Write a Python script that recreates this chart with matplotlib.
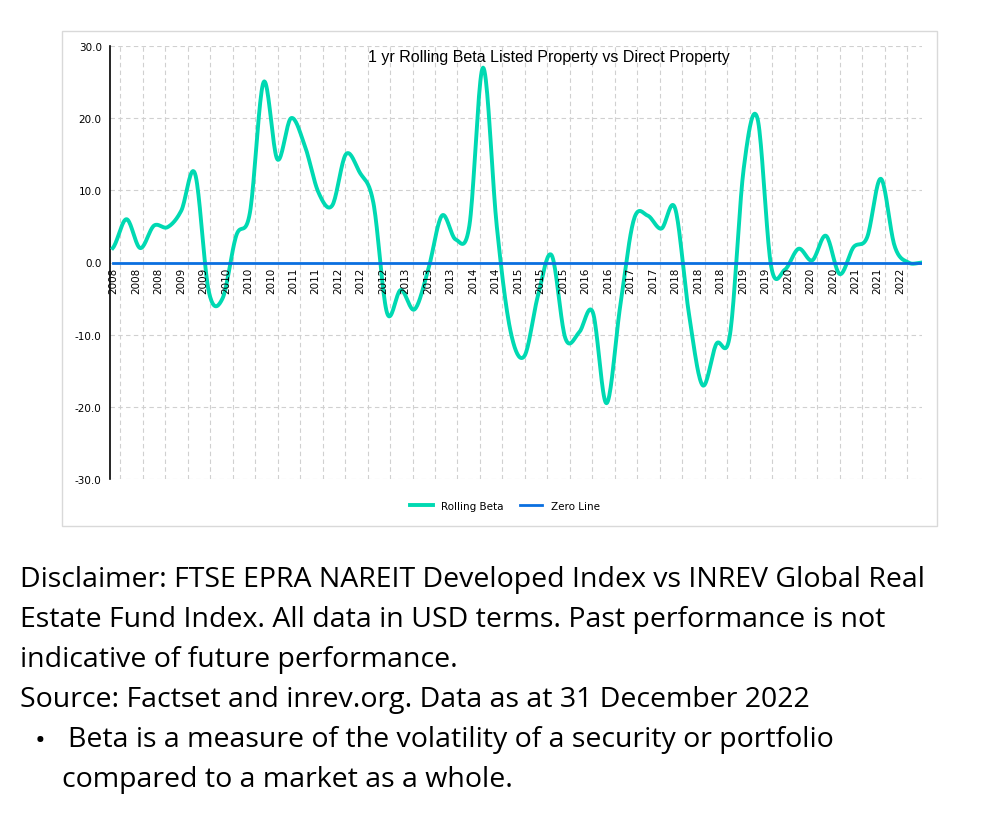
import numpy as np
import matplotlib.pyplot as plt
from matplotlib.patches import Rectangle

#------------------- DATA -------------------#
# quarterly rolling beta values, 2008 Q1 .. 2022 Q4
beta = [2.0, 6.0, 2.0, 5.1, 4.9, 7.2, 12.3, -4.0, -5.0, 3.7,
        6.9, 25.0, 14.3, 20.0, 16.2, 9.7, 7.9, 15.0, 12.5, 8.3,
        -7.0, -3.8, -6.5, -1.0, 6.5, 3.2, 5.1, 27.0, 5.0, -9.5,
        -13.0, -4.6, 1.0, -10.5, -9.7, -6.9, -19.5, -6.0, 6.0, 6.5,
        4.7, 7.5, -7.0, -17.0, -11.3, -10.0, 13.0, 20.0, -0.5, -1.0,
        1.9, 0.3, 3.7, -1.6, 2.1, 3.5, 11.6, 2.3, 0.0, 0.0]
tickLabels = ['2008', '2008', '2008', '2009', '2009', '2010', '2010', '2010', '2011', '2011',
              '2012', '2012', '2012', '2013', '2013', '2013', '2014', '2014', '2015', '2015',
              '2015', '2016', '2016', '2017', '2017', '2018', '2018', '2018', '2019', '2019',
              '2020', '2020', '2020', '2021', '2021', '2022']
title = '1 yr Rolling Beta Listed Property vs Direct Property'
notes = ['Disclaimer: FTSE EPRA NAREIT Developed Index vs INREV Global Real',
         'Estate Fund Index. All data in USD terms. Past performance is not',
         'indicative of future performance.',
         'Source: Factset and inrev.org. Data as at 31 December 2022']
bullet = ['Beta is a measure of the volatility of a security or portfolio',
          'compared to a market as a whole.']

TEAL = '#00d9b2'
BLUE = '#0a6fe0'

# catmull-rom smoothing, like excel's smoothed line
def smooth(y, n=20):
    y = np.asarray(y, float)
    p = np.concatenate([[y[0]], y, [y[-1]]])
    xs, ys = [], []
    for i in range(len(y) - 1):
        p0, p1, p2, p3 = p[i], p[i+1], p[i+2], p[i+3]
        t = np.linspace(0, 1, n, endpoint=False)
        ys.append(0.5*((2*p1) + (-p0+p2)*t + (2*p0-5*p1+4*p2-p3)*t**2 + (-p0+3*p1-3*p2+p3)*t**3))
        xs.append(i + t)
    xs.append([len(y)-1]); ys.append([y[-1]])
    return np.concatenate(xs), np.concatenate(ys)

fig = plt.figure(figsize=(10, 8.2), dpi=100)
fig.patches.append(Rectangle((62/1000, 1-527/820), 875/1000, 495/820, transform=fig.transFigure,
                             fill=False, edgecolor='#d9d9d9', linewidth=1))

ax = fig.add_axes([110/1000, 1-480/820, 812/1000, 433/820])
n = len(beta)
sx, sy = smooth(beta)
ax.plot(sx, sy, color=TEAL, linewidth=2.8, label='Rolling Beta', zorder=3)
ax.plot([0, n-1], [0, 0], color=BLUE, linewidth=2, label='Zero Line', zorder=4)

ax.set_xlim(-0.2, n-1)
ax.set_ylim(-30, 30)
ax.set_yticks(np.arange(-30, 31, 10))
ax.set_yticklabels(['%.1f' % v for v in np.arange(-30, 31, 10)], fontsize=7.5)
tickPos = np.linspace(0, n-1, len(tickLabels) + 1)[:-1] + 0.05
ax.set_xticks(tickPos + 0.5)
ax.set_xticklabels([])
ax.tick_params(axis='x', length=0)
# year labels hang just below the zero line
for x, lab in zip(tickPos, tickLabels):
    ax.text(x, -0.6, lab, rotation=90, ha='center', va='top', fontsize=7.5, zorder=5)
ax.tick_params(axis='y', length=0, pad=6)
ax.grid(True, color='#d0d0d0', linestyle=(0, (4, 3)), linewidth=0.8)
ax.set_axisbelow(True)
for s in ['top', 'right', 'bottom']:
    ax.spines[s].set_visible(False)
ax.spines['left'].set_linewidth(1.2)
ax.text(0.54, 0.993, title, transform=ax.transAxes, ha='center', va='top',
        fontsize=11.5, family='Liberation Sans')
ax.legend(loc='center', bbox_to_anchor=(505/1000, 1-507/820), bbox_transform=fig.transFigure,
          ncol=2, frameon=False, fontsize=7.5, handlelength=2.2, columnspacing=1.5)

fs = 20.5
for i, line in enumerate(notes):
    fig.text(20/1000, 1-(580 + 40*i)/820, line, fontsize=fs, family='Open Sans', va='center')
fig.text(35/1000, 1-742/820, '\u2022', fontsize=fs, family='Open Sans', va='center')
fig.text(68/1000, 1-740/820, bullet[0], fontsize=fs, family='Open Sans', va='center')
fig.text(62/1000, 1-780/820, bullet[1], fontsize=fs, family='Open Sans', va='center')

fig.savefig('out.png', dpi=100)
